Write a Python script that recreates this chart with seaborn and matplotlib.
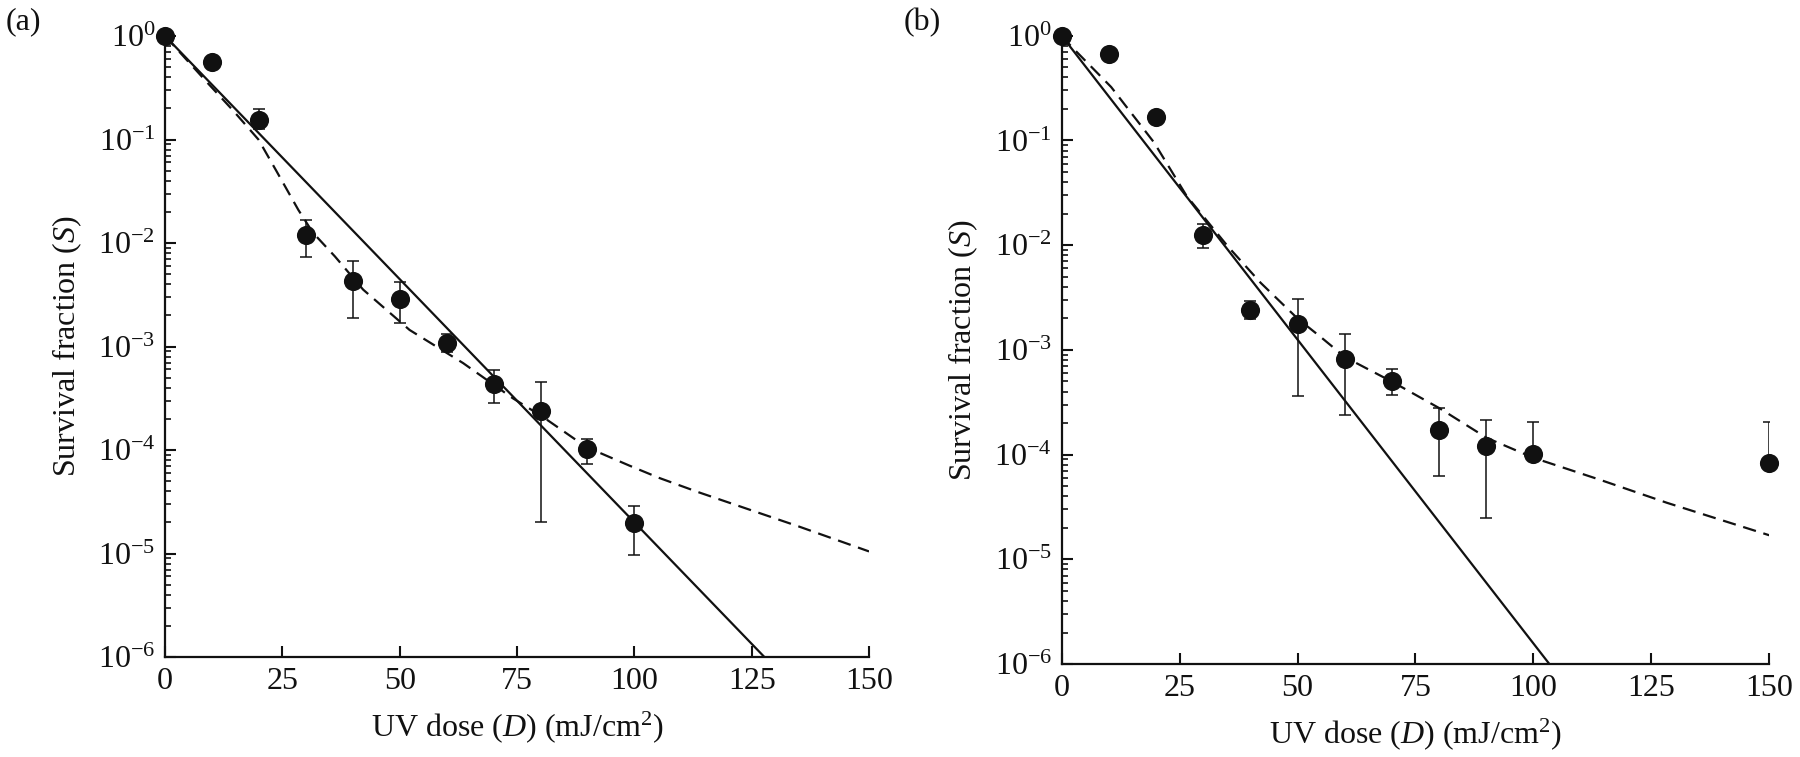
import numpy as np
import pandas as pd
import matplotlib
matplotlib.use("Agg")
import matplotlib.pyplot as plt
import seaborn as sns
from matplotlib.ticker import LogLocator, LogFormatterMathtext, NullFormatter

# ---------------- data ----------------
# Panel (a)
dose_a = [0, 10, 20, 30, 40, 50, 60, 70, 80, 90, 100]
surv_a = [1.0, 0.557, 0.154, 0.0119, 0.00432, 0.00288, 0.00109, 4.34e-4, 2.4e-4, 1.02e-4, 1.96e-5]
hi_a = [np.nan, np.nan, 0.197, 0.0167, 0.00675, 0.00417, 0.00131, 5.93e-4, 4.54e-4, 1.29e-4, 2.9e-5]
lo_a = [np.nan, np.nan, 0.125, 0.0073, 0.00187, 0.00168, 0.00089, 2.87e-4, 2.03e-5, 7.28e-5, 9.7e-6]
solid_dose_a = [0, 127.7]
solid_log_a = [0, -6]
dash_dose_a = [0, 5, 9.2, 14.5, 19.9, 23.8, 28.4, 31.5, 36.2, 42.2, 52.1, 63.5, 74.1, 80.5, 89.7, 98.9, 105.3, 113.8, 135.1, 150]
dash_log_a = [0, -0.25, -0.46, -0.72, -1.00, -1.31, -1.68, -1.90, -2.13, -2.45, -2.84, -3.16, -3.50, -3.68, -3.97, -4.15, -4.27, -4.41, -4.74, -4.98]

# Panel (b)
dose_b = [0, 10, 20, 30, 40, 50, 60, 70, 80, 90, 100, 150]
surv_b = [1.0, 0.665, 0.169, 0.0125, 0.00241, 0.00176, 8.17e-4, 5.07e-4, 1.73e-4, 1.2e-4, 1.02e-4, 8.3e-5]
hi_b = [np.nan, np.nan, np.nan, 0.016, 0.0029, 0.00307, 1.41e-3, 6.56e-4, 2.79e-4, 2.12e-4, 2.03e-4, 2.03e-4]
lo_b = [np.nan, np.nan, np.nan, 0.00936, 0.00197, 3.65e-4, 2.4e-4, 3.73e-4, 6.3e-5, 2.48e-5, 1.02e-4, 8.3e-5]
solid_dose_b = [0, 103.4]
solid_log_b = [0, -6]
dash_dose_b = [0, 2, 10.5, 19.6, 26.5, 35.2, 42.2, 50, 55, 60.1, 70.3, 80.2, 90.1, 100, 114.1, 128.3, 150]
dash_log_b = [0, -0.10, -0.49, -1.02, -1.53, -2.01, -2.36, -2.70, -2.88, -3.07, -3.31, -3.56, -3.84, -4.03, -4.24, -4.46, -4.77]

xticks = [0, 25, 50, 75, 100, 125, 150]

# ---------------- style ----------------
sns.set_theme(style="ticks")
plt.rcParams["font.family"] = ["Liberation Serif", "DejaVu Serif"]
plt.rcParams["mathtext.fontset"] = "custom"
plt.rcParams["mathtext.rm"] = "Liberation Serif"
plt.rcParams["mathtext.it"] = "Liberation Serif:italic"
plt.rcParams["mathtext.bf"] = "Liberation Serif:bold"

FS = 23
INK = "#111111"

fig = plt.figure(figsize=(18, 7.57), dpi=100)
ax_a = fig.add_axes([0.0917, 0.1321, 0.3911, 0.8203])
ax_b = fig.add_axes([0.5898, 0.1228, 0.3931, 0.8300])


def draw(ax, dose, surv, hi, lo, sd, sl, dd, dl):
    pts = pd.DataFrame({"dose": dose, "surv": surv, "hi": hi, "lo": lo})
    solid = pd.DataFrame({"dose": sd, "surv": np.power(10.0, sl)})
    dash = pd.DataFrame({"dose": dd, "surv": np.power(10.0, dl)})

    sns.lineplot(data=solid, x="dose", y="surv", ax=ax, color=INK, lw=1.6,
                 estimator=None, sort=False, zorder=2)
    sns.lineplot(data=dash, x="dose", y="surv", ax=ax, color=INK, lw=1.6,
                 estimator=None, sort=False, zorder=2, dashes=False)
    ax.lines[-1].set_dashes([6, 3.5])

    eb = pts.dropna(subset=["hi"])
    yerr = np.vstack([eb["surv"] - eb["lo"], eb["hi"] - eb["surv"]])
    ax.errorbar(eb["dose"], eb["surv"], yerr=yerr, fmt="none", ecolor=INK,
                elinewidth=1.1, capsize=4, capthick=1.1, zorder=3)

    sns.scatterplot(data=pts, x="dose", y="surv", ax=ax, color=INK, s=190,
                    edgecolor=INK, linewidth=0, zorder=4, clip_on=False)

    ax.set_yscale("log")
    ax.set_xlim(0, 150)
    ax.set_ylim(1e-6, 1)
    ax.set_xticks(xticks)
    ax.set_xticklabels([str(t) for t in xticks])
    ax.yaxis.set_major_locator(LogLocator(base=10, numticks=10))
    ax.yaxis.set_major_formatter(LogFormatterMathtext())
    ax.yaxis.set_minor_locator(LogLocator(base=10, subs=np.arange(2, 10), numticks=20))
    ax.yaxis.set_minor_formatter(NullFormatter())

    for s in ["top", "right"]:
        ax.spines[s].set_visible(False)
    for s in ["left", "bottom"]:
        ax.spines[s].set_linewidth(1.6)
        ax.spines[s].set_color(INK)

    ax.tick_params(axis="both", which="major", direction="in", length=8,
                   width=1.5, colors=INK, labelsize=FS, pad=7)
    ax.tick_params(axis="y", which="minor", direction="in", length=4.5,
                   width=1.2, colors=INK)
    ax.tick_params(axis="x", which="minor", bottom=False)

    ax.set_xlabel(r"UV dose ($\mathit{D}$) (mJ/cm$^{2}$)", fontsize=FS, labelpad=10, color=INK)
    ax.set_ylabel(r"Survival fraction ($\mathit{S}$)", fontsize=FS, labelpad=10, color=INK)
    ax.set_facecolor("white")


draw(ax_a, dose_a, surv_a, hi_a, lo_a, solid_dose_a, solid_log_a, dash_dose_a, dash_log_a)
draw(ax_b, dose_b, surv_b, hi_b, lo_b, solid_dose_b, solid_log_b, dash_dose_b, dash_log_b)

fig.text(0.003, 0.99, "(a)", fontsize=FS, va="top", ha="left", color=INK)
fig.text(0.502, 0.99, "(b)", fontsize=FS, va="top", ha="left", color=INK)

fig.savefig("out.png", dpi=100, facecolor="white")
